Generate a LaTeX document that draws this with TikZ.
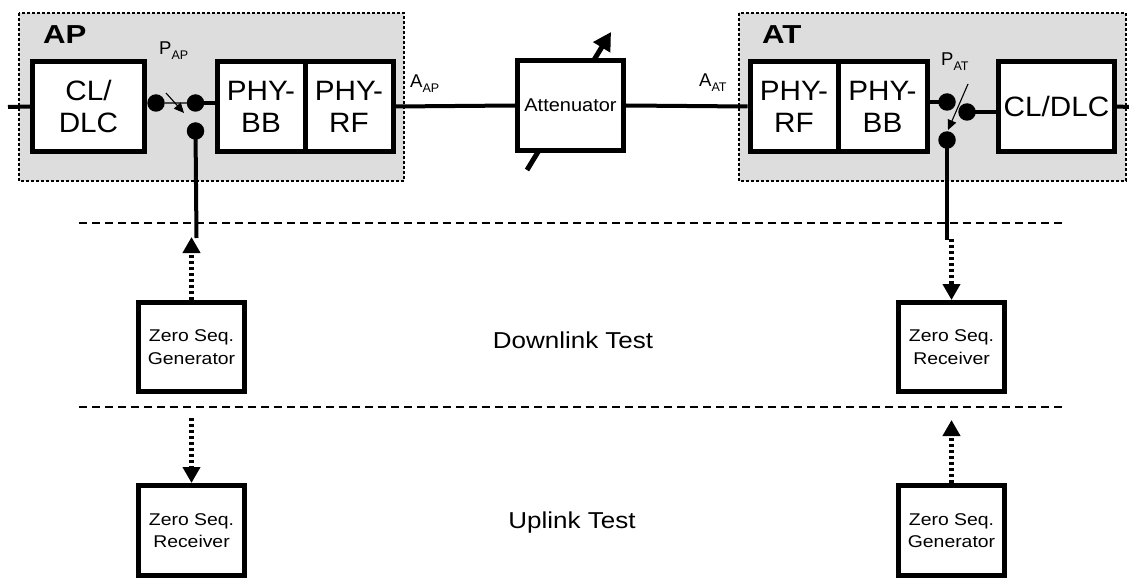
\documentclass[tikz,border=0pt]{standalone}
\usepackage{fontspec}
\setmainfont{Liberation Sans}
\newfontfamily\blkfont[FakeStretch=1.06]{Liberation Sans}
\newfontfamily\attfont[FakeStretch=1.08]{Liberation Sans}
\newfontfamily\zsfont[FakeStretch=1.14]{Liberation Sans}
\newfontfamily\testfont[FakeStretch=1.13]{Liberation Sans}
\newfontfamily\titlefont[FakeStretch=1.2]{Liberation Sans}
\usetikzlibrary{arrows.meta}
\definecolor{regiongray}{HTML}{DDDDDD}
\tikzset{
  region/.style={draw=black, fill=regiongray, line width=1.2pt, dash pattern=on 3pt off 2pt},
  blk/.style={draw=black, fill=white, line width=5pt, inner sep=0pt, align=center,
              font=\blkfont\fontsize{28}{32}\selectfont},
  attbox/.style={blk, font=\attfont\fontsize{18.5}{22}\selectfont},
  zsbox/.style={draw=black, fill=white, line width=5pt, inner sep=0pt, align=center,
              minimum width=106pt, minimum height=89pt, font=\zsfont\fontsize{17}{22.5}\selectfont},
  dot/.style={circle, fill=black, draw=none, minimum size=17.5pt, inner sep=0pt},
  wire/.style={line width=4pt},
  thinarrow/.style={line width=1.1pt, -{Triangle[width=9pt,length=10pt]}},
  testarrow/.style={line width=4.3pt, dash pattern=on 3pt off 3pt, -{Triangle[width=17pt,length=16pt]}},
  sep/.style={line width=2.2pt, dash pattern=on 8pt off 5pt},
  lbl/.style={inner sep=0pt, anchor=base west, font=\fontsize{18.5}{20}\selectfont},
  title/.style={inner sep=0pt, anchor=base west, font=\titlefont\fontsize{26}{28}\selectfont\bfseries},
  testlbl/.style={inner sep=0pt, font=\testfont\fontsize{23}{26}\selectfont}
}
\newcommand{\sbs}[1]{\raisebox{-5pt}{\fontsize{12.5}{13}\selectfont #1}}
\begin{document}
\begin{tikzpicture}[x=1pt,y=-1pt]
\useasboundingbox (0,0) rectangle (1129,588);
% regions
\draw[region] (19,13) rectangle (404,181);
\draw[region] (739,13) rectangle (1126,181);
% separators
\coordinate (s1a) at (79,223); \coordinate (s1b) at (1065,223);
\coordinate (s2a) at (79,407); \coordinate (s2b) at (1065,407);
\draw[sep] (s1a) -- (s1b);
\draw[sep] (s2a) -- (s2b);
% attenuator arrow (behind box)
\coordinate (atttail) at (527,170); \coordinate (atthead) at (611,32);
\draw[line width=5pt, -{Triangle[width=19pt,length=18pt]}] (atttail) -- (atthead);
% blocks
\node[blk, minimum width=112pt, minimum height=90pt] (cldlcap) at (88.5,106.5) {CL/\\DLC};
\node[blk, minimum width=88pt, minimum height=90pt] (phybbap) at (261,106.5) {PHY-\\BB};
\node[blk, minimum width=88pt, minimum height=90pt] (phyrfap) at (349,106.5) {PHY-\\RF};
\node[attbox, minimum width=106pt, minimum height=90pt] (att) at (570.5,105.5) {Attenuator};
\node[blk, minimum width=88pt, minimum height=90pt] (phyrfat) at (794,106.5) {PHY-\\RF};
\node[blk, minimum width=89pt, minimum height=90pt] (phybbat) at (882.5,106.5) {PHY-\\BB};
\node[blk, minimum width=116pt, minimum height=90pt] (cldlcat) at (1056.5,106.5) {CL/DLC};
% main wires
\coordinate (lstub) at (8,107);
\coordinate (rstub) at (1129,107);
\draw[wire] (lstub) -- (cldlcap.west);
\draw[wire] (phyrfap.east) -- (att.west);
\draw[wire] (att.east) -- (phyrfat.west);
\draw[wire] (cldlcat.east) -- (rstub);
% AP switch
\node[dot] (apd1) at (156,103) {};
\node[dot] (apd2) at (195.5,103) {};
\node[dot] (apd3) at (195.5,131) {};
\draw[line width=1.5pt, gray!60!black] (apd1) -- (apd2);
\draw[wire] (apd2.center) -- (phybbap.west |- apd2);
\coordinate (apsw1) at (166,93); \coordinate (apsw2) at (184,113);
\draw[thinarrow] (apsw1) -- (apsw2);
\coordinate (apdown) at (196.5,238);
\draw[wire] (apd3.center) -- (apdown);
% AT switch
\node[dot] (atd1) at (947,102) {};
\node[dot] (atd2) at (967,112) {};
\node[dot] (atd3) at (947,140) {};
\draw[wire] (phybbat.east |- atd1) -- (atd1.center);
\draw[wire] (atd2.center) -- (cldlcat.west |- atd2);
\coordinate (atsw1) at (968,84); \coordinate (atsw2) at (948,130);
\draw[thinarrow] (atsw1) -- (atsw2);
\coordinate (atdown) at (947,240);
\draw[wire] (atd3.center) -- (atdown);
% labels
\node[title] (aplbl) at (43,43.5) {AP};
\node[title] (atlbl) at (762,43.5) {AT};
\node[lbl] (paplbl) at (159,55) {P\sbs{AP}};
\node[lbl] (patlbl) at (941,66) {P\sbs{AT}};
\node[lbl] (aaplbl) at (410,88) {A\sbs{AP}};
\node[lbl] (aatlbl) at (699,87) {A\sbs{AT}};
% test boxes
\node[zsbox] (gen1) at (191.5,347) {Zero Seq.\\Generator};
\node[zsbox, minimum height=90pt] (rec1) at (191.5,530.5) {Zero Seq.\\Receiver};
\node[zsbox] (rec2) at (951.5,347) {Zero Seq.\\Receiver};
\node[zsbox, minimum height=90pt] (gen2) at (951.5,530.5) {Zero Seq.\\Generator};
\node[testlbl] (dl) at (573,340) {Downlink Test};
\node[testlbl] (ul) at (572,523) {Uplink Test};
% test arrows
\coordinate (t1) at (191.5,237);
\coordinate (t2) at (191.5,418);
\coordinate (t3) at (951.5,239);
\coordinate (t4) at (951.5,420);
\draw[testarrow] (gen1.north) -- (t1);
\draw[testarrow] (t2) -- (rec1.north);
\draw[testarrow] (t3) -- (rec2.north);
\draw[testarrow] (gen2.north) -- (t4);
\end{tikzpicture}
\end{document}
